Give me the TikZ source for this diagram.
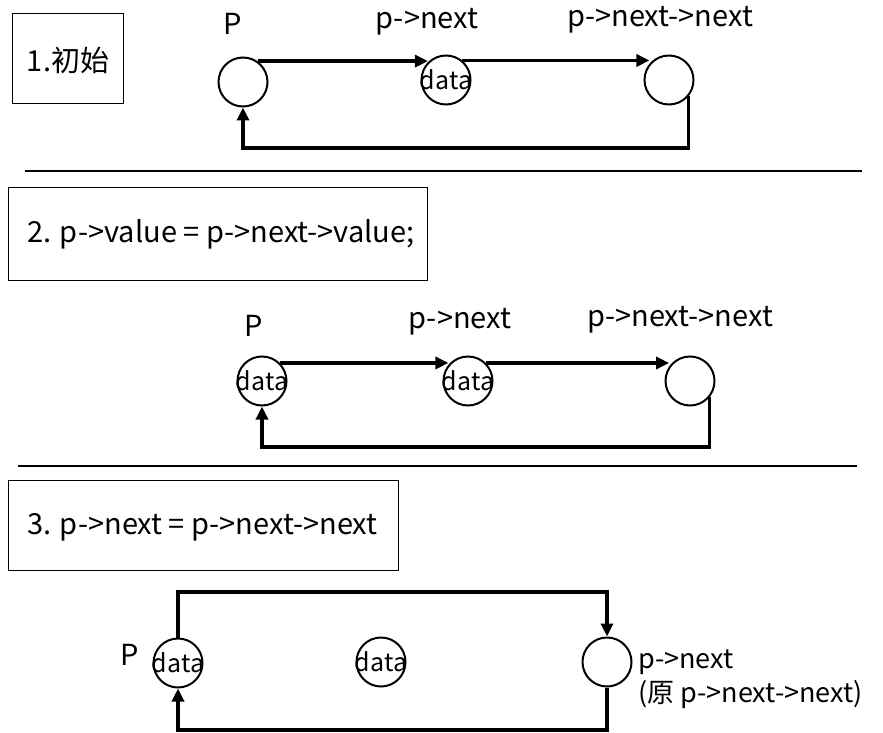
\documentclass[tikz,border=0pt]{standalone}
\usepackage{fontspec}
\setmainfont{Noto Sans CJK SC}
\usetikzlibrary{arrows.meta,calc}
\newcommand{\dtxt}{\makebox[0pt]{data}}
\tikzset{
  nd/.style={draw,circle,line width=2pt,minimum size=49pt,inner sep=0pt,font=\fontsize{25}{27}\selectfont},
  arr/.style={line width=3.4pt,-{Triangle[length=13pt,width=12pt]}},
  lbl/.style={font=\fontsize{29}{33}\selectfont,inner sep=0pt},
  stepbox/.style={draw,line width=1pt},
  sep/.style={line width=2.2pt},
}
\begin{document}
\begin{tikzpicture}[x=1pt,y=-1pt]
\useasboundingbox (0,0) rectangle (883,733);
% ---------- panel 1
\draw[stepbox] (12,14) rectangle (123,104);
\node[lbl] (t1) at (68,60) {1.初始};
\node[nd] (a1) at (243,82) {};
\node[nd] (b1) at (446,80) {\raisebox{-3pt}{\dtxt}};
\node[nd] (c1) at (669,80) {};
\node[lbl] (la1) at (233,24) {P};
\node[lbl] (lb1) at (427,22) {p->next};
\node[lbl] (lc1) at (660,20) {p->next->next};
\coordinate (r1) at (0,148);
\draw[arr] (a1.55) -- (b1.135 |- a1.55);
\draw[arr] (b1.50) -- (c1.140 |- b1.50);
\draw[arr] (c1.-40) -- (c1.-40 |- r1) -| (a1.south);
\draw[sep] (25,171) -- (862,171);
% ---------- panel 2
\draw[stepbox] (8,187) rectangle (427,280);
\node[lbl,anchor=west] (t2) at (27,234) {2. p->value = p->next->value;};
\node[nd] (a2) at (262,381) {\dtxt};
\node[nd] (b2) at (468,381) {\dtxt};
\node[nd] (c2) at (690,381) {};
\node[lbl] (la2) at (254,326) {P};
\node[lbl] (lb2) at (460,322) {p->next};
\node[lbl] (lc2) at (680,320) {p->next->next};
\coordinate (r2) at (0,447);
\draw[arr] (a2.45) -- (b2.140 |- a2.45);
\draw[arr] (b2.45) -- (c2.145 |- b2.45);
\draw[arr] (c2.-40) -- (c2.-40 |- r2) -| (a2.south);
\draw[sep] (18,466) -- (857,466);
% ---------- panel 3
\draw[stepbox] (8,480) rectangle (398,570);
\node[lbl,anchor=west] (t3) at (27,527) {3. p->next = p->next->next};
\node[nd] (a3) at (178,663) {\dtxt};
\node[nd] (b3) at (381,662) {\dtxt};
\node[nd] (c3) at (607,662) {};
\node[lbl] (la3) at (130,655) {P};
\node[lbl,anchor=west,font=\fontsize{27}{31}\selectfont] (lc3) at (638,662) {p->next};
\node[lbl,anchor=west,font=\fontsize{27}{31}\selectfont] (ld3) at (638,695) {(原 p->next->next)};
\coordinate (t3y) at (0,592);
\coordinate (r3) at (0,730);
\draw[arr] (a3.north) -- (a3.north |- t3y) -| (c3.north);
\draw[arr] (c3.south) -- (c3.south |- r3) -| (a3.south);
\end{tikzpicture}
\end{document}
